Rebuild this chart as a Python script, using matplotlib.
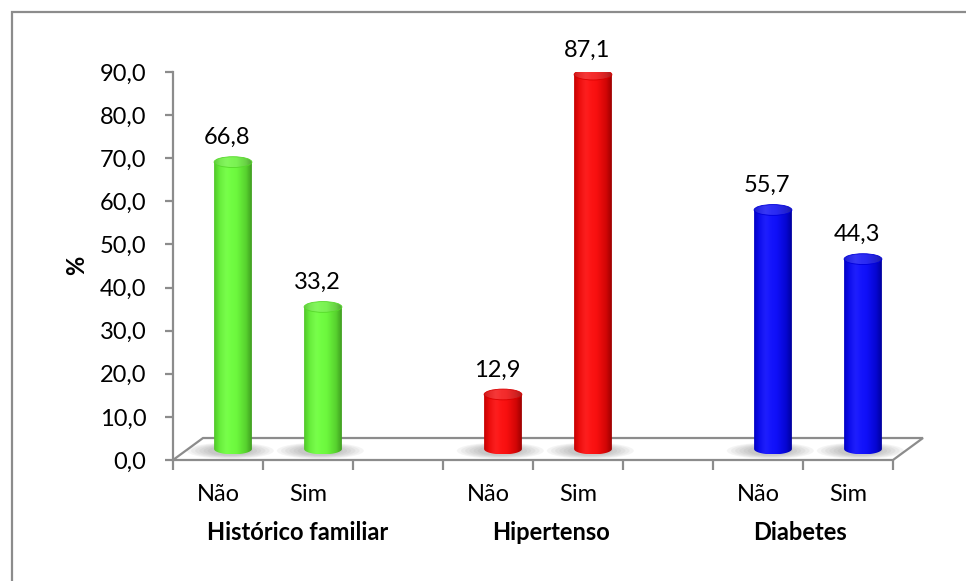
import matplotlib.pyplot as plt
import numpy as np
from matplotlib.patches import Ellipse, Polygon, PathPatch, Rectangle
from matplotlib.path import Path
from matplotlib.colors import to_rgb

# dados
groups = ['Histórico familiar', 'Hipertenso', 'Diabetes']
answers = ['Não', 'Sim']
values = [[66.8, 33.2], [12.9, 87.1], [55.7, 44.3]]
colors = ['#66ff33', '#ff0000', '#0000ff']
yticks = np.arange(0, 100, 10)

plt.rcParams['font.family'] = ['Lato', 'DejaVu Sans']
FS = 17
GRAY = '#8c8c8c'

fig = plt.figure(figsize=(9.66, 5.81), dpi=100)
ax = fig.add_axes([173/966, 121/581, 752/966, 388/581])

n_slots = 8
dx, dy = 30/90, 5.1      # profundidade do "piso" 3D
w, eh = 0.42, 2.5        # largura do cilindro e altura da elipse
base = dy / 2
lift = 2.3


def shade(color, n=64):
    # gradiente horizontal para dar volume ao cilindro
    c = np.array(to_rgb(color))
    t = np.linspace(0, 1, n)
    f = np.interp(t, [0, 0.15, 0.35, 0.6, 0.85, 1], [0.78, 0.93, 1.0, 0.97, 0.82, 0.62])
    g = np.interp(t, [0, 0.3, 0.45, 1], [0, 0.12, 0.08, 0])
    rgb = c[None, :] * f[:, None]
    rgb = rgb + (1 - rgb) * g[:, None]
    return np.clip(rgb, 0, 1)[None, :, :]


# piso
floor = Polygon([(0, 0), (n_slots, 0), (n_slots + dx, dy), (dx, dy)], closed=True,
                facecolor='white', edgecolor=GRAY, lw=1.6, zorder=1, clip_on=False)
ax.add_patch(floor)

for g, grp in enumerate(groups):
    for j, v in enumerate(values[g]):
        slot = g * 3 + j
        cx = slot + 0.5 + dx / 2
        top = v + lift
        # sombra no piso
        for k in range(6):
            sh = Ellipse((cx - 0.03, base - 0.4), w * (1.2 + 0.22 * k), eh * (0.9 + 0.12 * k),
                         facecolor='#505050', edgecolor='none', alpha=0.06, zorder=2)
            ax.add_patch(sh)
        # corpo
        th = np.linspace(np.pi, 2 * np.pi, 40)
        verts = [(cx + w/2*np.cos(a), base + eh/2*np.sin(a)) for a in th]
        verts += [(cx + w/2, top), (cx - w/2, top), verts[0]]
        body = PathPatch(Path(verts), facecolor='none', edgecolor='none')
        ax.add_patch(body)
        im = ax.imshow(shade(colors[g]), extent=[cx - w/2, cx + w/2, base - eh/2, top],
                       aspect='auto', zorder=3, interpolation='bilinear')
        im.set_clip_path(body)
        # tampa
        cap = Ellipse((cx, top), w, eh, facecolor='none', edgecolor='none')
        ax.add_patch(cap)
        c = np.array(to_rgb(colors[g]))
        capimg = shade(colors[g])
        capimg = capimg + (1 - capimg) * 0.12
        im2 = ax.imshow(np.clip(capimg * 0.97, 0, 1), extent=[cx - w/2, cx + w/2, top - eh/2, top + eh/2],
                        aspect='auto', zorder=4, interpolation='bilinear')
        im2.set_clip_path(cap)
        ax.add_patch(Ellipse((cx, top), w, eh, facecolor='none',
                             edgecolor=tuple(c * 0.85), lw=0.6, zorder=5))
        # rótulo de valor
        ax.text(slot + 0.6, v + 8, f'{v:.1f}'.replace('.', ','), ha='center', va='center',
                fontsize=FS, zorder=6)
        ax.text(slot + 0.5, -8.1, answers[j], ha='center', va='center', fontsize=FS,
                clip_on=False)

group_x = [1.39, 4.2, 6.97]
for g, grp in enumerate(groups):
    ax.text(group_x[g], -16.9, grp, ha='center', va='center', fontsize=FS,
            fontweight='bold', clip_on=False)

ax.set_xlim(0, 752 / 90)
ax.set_ylim(0, 90)
ax.set_xticks(range(n_slots + 1))
ax.set_xticklabels([])
ax.set_yticks(yticks)
ax.set_yticklabels([f'{t:.1f}'.replace('.', ',') for t in yticks])
ax.tick_params(axis='y', length=6, width=1.6, color=GRAY, pad=13, labelsize=FS)
ax.tick_params(axis='x', length=7, width=1.6, color=GRAY)
for s in ['top', 'right', 'bottom']:
    ax.spines[s].set_visible(False)
ax.spines['left'].set_color(GRAY)
ax.spines['left'].set_linewidth(1.6)
ax.patch.set_alpha(0)

fig.text(77/966, 1 - 265/581, '%', rotation=90, ha='center', va='center',
         fontsize=FS, fontweight='bold')

fig.patches.append(Rectangle((12/966, -0.1), 1.2, 1.1 - 12/581, transform=fig.transFigure,
                             fill=False, edgecolor=GRAY, lw=1.6))

fig.savefig('out.png', dpi=100)
